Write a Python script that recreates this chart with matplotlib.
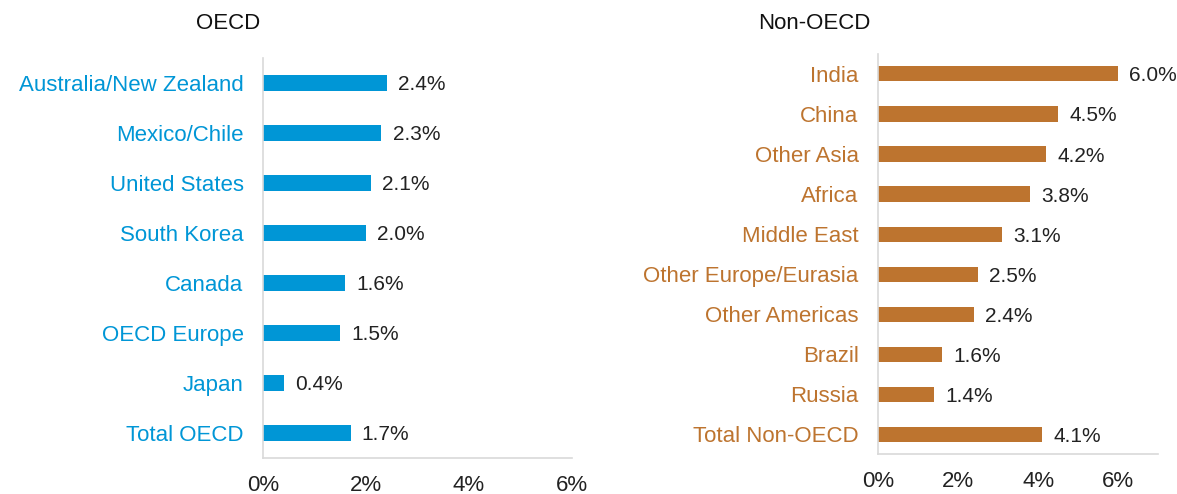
import numpy as np
import matplotlib
matplotlib.use('Agg')
import matplotlib.pyplot as plt

plt.rcParams['font.family'] = ['Liberation Sans', 'DejaVu Sans']

# OECD
oecd_regions = ['Australia/New Zealand', 'Mexico/Chile', 'United States', 'South Korea',
                'Canada', 'OECD Europe', 'Japan', 'Total OECD']
oecd_values = [2.4, 2.3, 2.1, 2.0, 1.6, 1.5, 0.4, 1.7]

# Non-OECD
non_oecd_regions = ['India', 'China', 'Other Asia', 'Africa', 'Middle East',
                    'Other Europe/Eurasia', 'Other Americas', 'Brazil', 'Russia', 'Total Non-OECD']
non_oecd_values = [6.0, 4.5, 4.2, 3.8, 3.1, 2.5, 2.4, 1.6, 1.4, 4.1]

xticks = [0, 2, 4, 6]
xtick_labels = ['0%', '2%', '4%', '6%']

blue = '#0096D6'
orange = '#BD742F'

fig = plt.figure(figsize=(11.77, 4.94), dpi=100)
ax1 = fig.add_axes([0.2235, 0.073, 0.2625, 0.81])
ax2 = fig.add_axes([0.746, 0.080, 0.238, 0.811])


def draw_panel(ax, labels, values, color, xmax, height):
    y = np.arange(len(labels))
    ax.barh(y, values, height=height, color=color)
    ax.set_ylim(len(labels) - 0.5, -0.5)
    ax.set_xlim(0, xmax)
    ax.set_yticks(y)
    ax.set_yticklabels(labels, color=color, fontsize=16)
    ax.set_xticks(xticks)
    ax.set_xticklabels(xtick_labels, fontsize=16, color='#222222')
    ax.tick_params(length=0)
    ax.tick_params(axis='y', pad=14)
    ax.tick_params(axis='x', pad=12)
    for s in ['top', 'right']:
        ax.spines[s].set_visible(False)
    for s in ['left', 'bottom']:
        ax.spines[s].set_color('#d9d9d9')
        ax.spines[s].set_linewidth(1.2)
    for yi, v in zip(y, values):
        ax.annotate(f'{v:.1f}%', (v, yi), xytext=(8, 0), textcoords='offset points',
                    va='center_baseline', ha='left', fontsize=15, color='#222222')


draw_panel(ax1, oecd_regions, oecd_values, blue, 6.0, 0.33)
draw_panel(ax2, non_oecd_regions, non_oecd_values, orange, 7.0, 0.38)

fig.text(0.194, 0.952, 'OECD', fontsize=16, ha='center', va='center', color='#111111')
fig.text(0.692, 0.952, 'Non-OECD', fontsize=16, ha='center', va='center', color='#111111')

fig.savefig('out.png', dpi=100)
